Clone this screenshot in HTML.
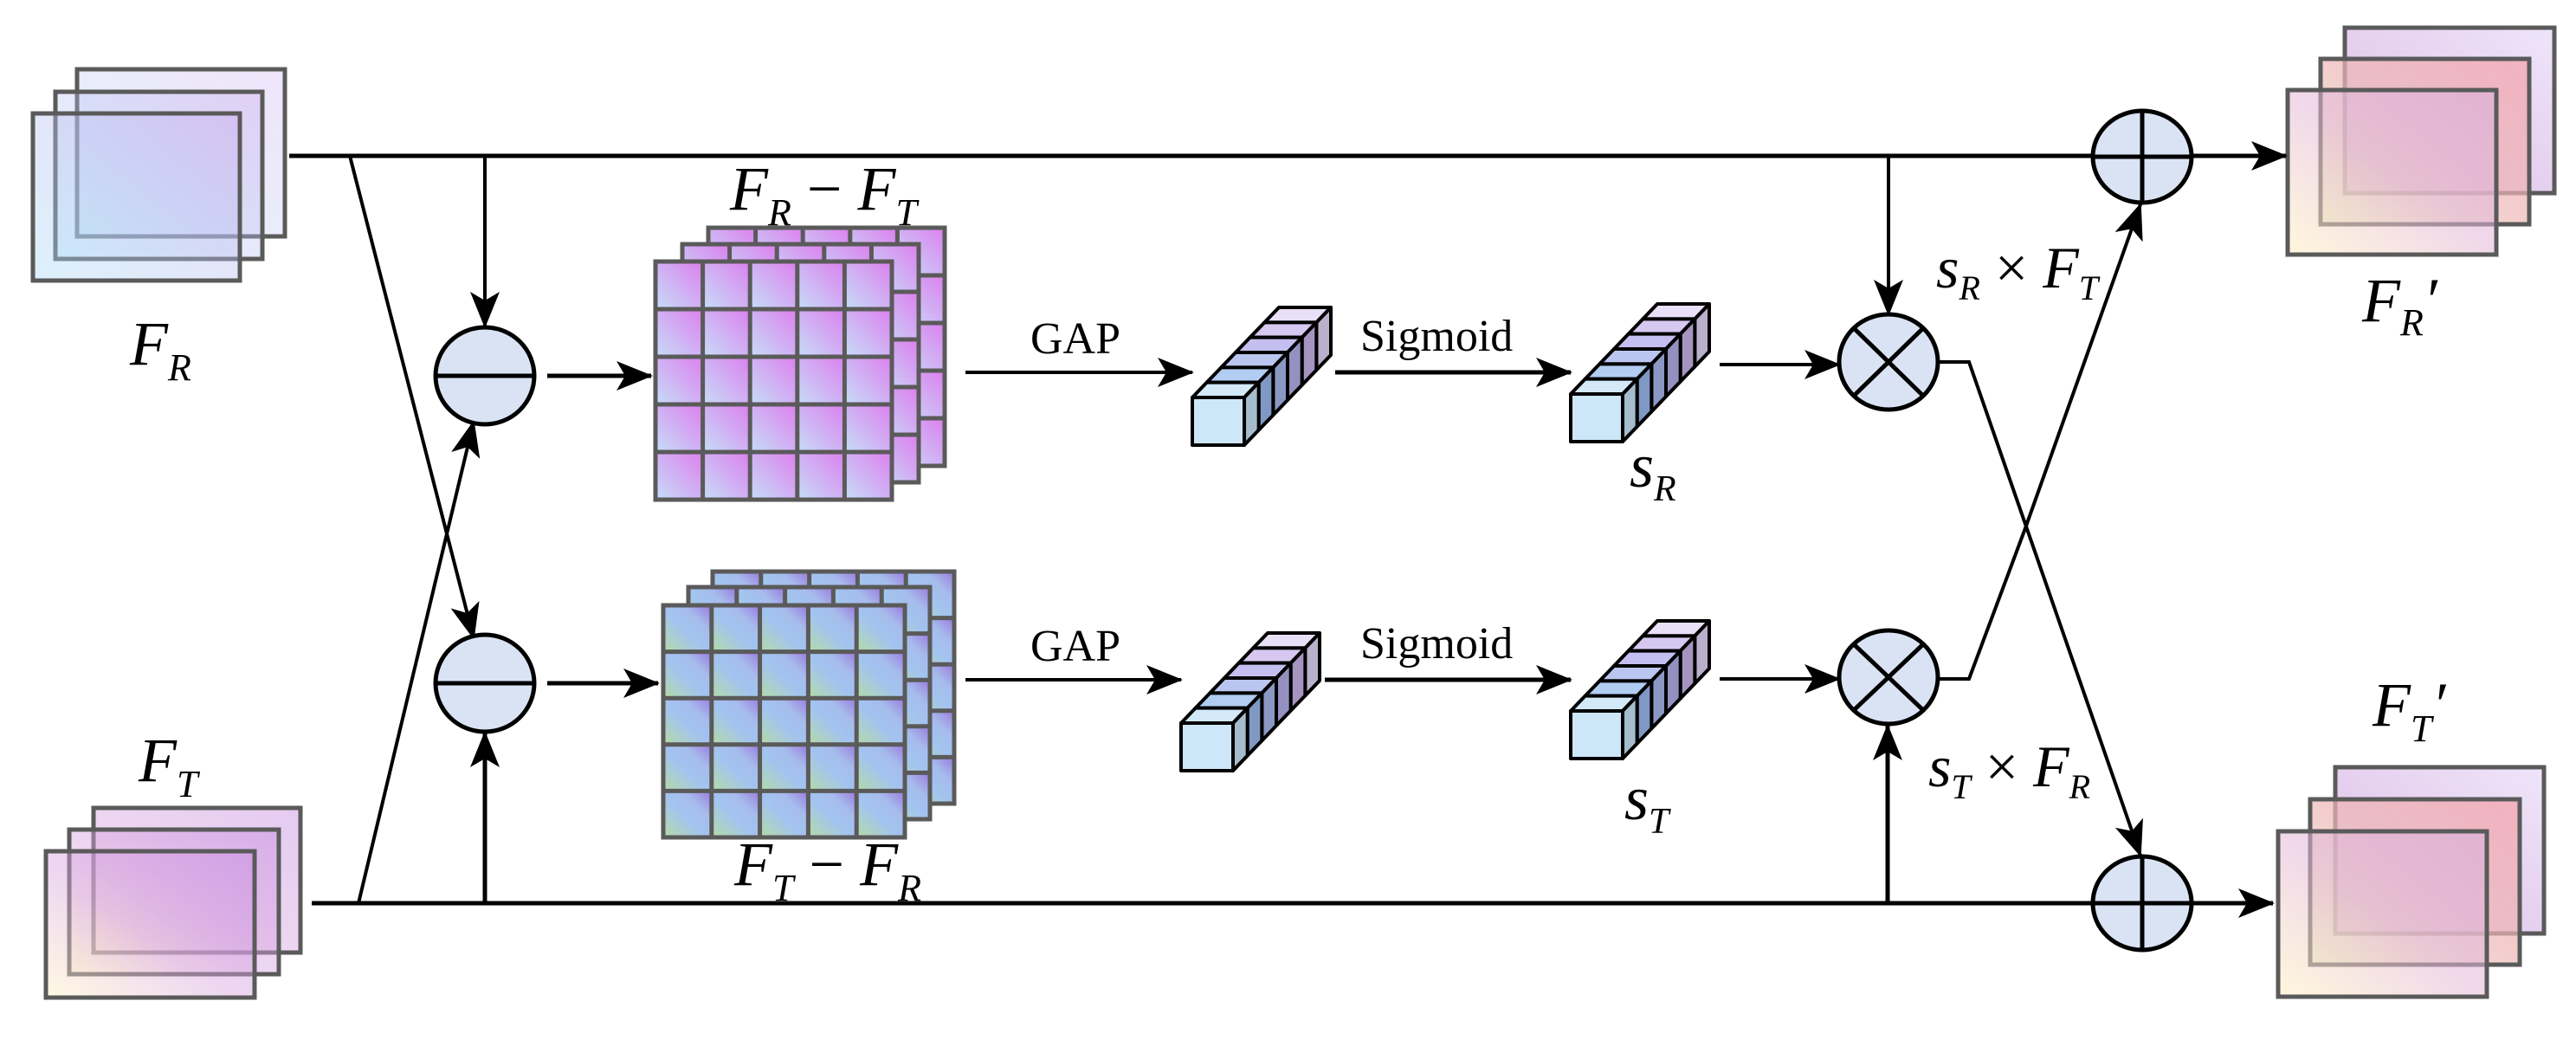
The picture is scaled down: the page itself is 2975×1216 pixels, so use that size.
<!DOCTYPE html>
<html><head><meta charset="utf-8"><style>
html,body{margin:0;padding:0;background:#fff}
svg{display:block}
</style></head><body>
<svg width="2975" height="1216" viewBox="0 0 2975 1216" xmlns="http://www.w3.org/2000/svg" font-family="'Liberation Serif', serif">
<defs>
<marker id="ah" markerUnits="userSpaceOnUse" markerWidth="44" markerHeight="34" refX="40" refY="17" orient="auto">
<path d="M0,0 L42,17 L0,34 L10,17 Z" fill="#000"/>
</marker>
<linearGradient id="gFR" x1="0" y1="1" x2="1" y2="0"><stop offset="0" stop-color="#a8dcf6"/><stop offset="1" stop-color="#c9a6ec"/></linearGradient>
<linearGradient id="gFT" x1="0" y1="1" x2="1" y2="0"><stop offset="0" stop-color="#fff2c0"/><stop offset="0.45" stop-color="#d9a6e0"/><stop offset="1" stop-color="#c58ae0"/></linearGradient>
<linearGradient id="gO1" x1="0" y1="1" x2="1" y2="0"><stop offset="0" stop-color="#d6b0e0"/><stop offset="1" stop-color="#ece0f8"/></linearGradient>
<linearGradient id="gO2" x1="0" y1="1" x2="1" y2="0"><stop offset="0" stop-color="#e4ecc0"/><stop offset="0.5" stop-color="#eeb8b8"/><stop offset="1" stop-color="#f4a0a8"/></linearGradient>
<linearGradient id="gO3" x1="0" y1="1" x2="1" y2="0"><stop offset="0" stop-color="#fff0c0"/><stop offset="0.5" stop-color="#e4b8d8"/><stop offset="1" stop-color="#d6b0e0"/></linearGradient>
<linearGradient id="cA" x1="0" y1="1" x2="1" y2="0"><stop offset="0" stop-color="#c6def8"/><stop offset="1" stop-color="#dc80ee"/></linearGradient>
<linearGradient id="cB" x1="0" y1="1" x2="1" y2="0"><stop offset="0" stop-color="#b5dba5"/><stop offset="0.45" stop-color="#a3c4ef"/><stop offset="0.7" stop-color="#a6bcec"/><stop offset="1" stop-color="#9a78de"/></linearGradient>
<g id="rowA" fill="url(#cA)">
<rect x="0" y="0" width="54.6" height="55"/><rect x="54.6" y="0" width="54.6" height="55"/><rect x="109.2" y="0" width="54.6" height="55"/><rect x="163.8" y="0" width="54.6" height="55"/><rect x="218.4" y="0" width="54.6" height="55"/>
</g>
<g id="gridA">
<use href="#rowA" y="0"/><use href="#rowA" y="55"/><use href="#rowA" y="110"/><use href="#rowA" y="165"/><use href="#rowA" y="220"/>
<rect x="0" y="0" width="273" height="275" stroke="#5a5a5a" stroke-width="5" fill="none"/>
<path d="M54.6,0V275M109.2,0V275M163.8,0V275M218.4,0V275M0,55H273M0,110H273M0,165H273M0,220H273" stroke="#5a5a5a" stroke-width="5" fill="none"/>
</g>
<g id="rowB" fill="url(#cB)">
<rect x="0" y="0" width="55.8" height="53.6"/><rect x="55.8" y="0" width="55.8" height="53.6"/><rect x="111.6" y="0" width="55.8" height="53.6"/><rect x="167.4" y="0" width="55.8" height="53.6"/><rect x="223.2" y="0" width="55.8" height="53.6"/>
</g>
<g id="gridB">
<use href="#rowB" y="0"/><use href="#rowB" y="53.6"/><use href="#rowB" y="107.2"/><use href="#rowB" y="160.8"/><use href="#rowB" y="214.4"/>
<rect x="0" y="0" width="279" height="268" stroke="#5a5a5a" stroke-width="5" fill="none"/>
<path d="M55.8,0V268M111.6,0V268M167.4,0V268M223.2,0V268M0,53.6H279M0,107.2H279M0,160.8H279M0,214.4H279" stroke="#5a5a5a" stroke-width="5" fill="none"/>
</g>
<g id="vec" stroke="#000" stroke-width="4" stroke-linejoin="round">
<polygon points="83.33,-141.67 143.33,-141.67 160,-159 100,-159" fill="#e8e0f6"/>
<polygon points="143.33,-141.67 160,-159 160,-104 143.33,-86.67" fill="#b9b0cc"/>
<polygon points="66.67,-124.33 126.67,-124.33 143.33,-141.67 83.33,-141.67" fill="#d6c8f0"/>
<polygon points="126.67,-124.33 143.33,-141.67 143.33,-86.67 126.67,-69.33" fill="#a594c0"/>
<polygon points="50,-107 110,-107 126.67,-124.33 66.67,-124.33" fill="#c4bff0"/>
<polygon points="110,-107 126.67,-124.33 126.67,-69.33 110,-52" fill="#9490c0"/>
<polygon points="33.33,-89.67 93.33,-89.67 110,-107 50,-107" fill="#bac6f0"/>
<polygon points="93.33,-89.67 110,-107 110,-52 93.33,-34.67" fill="#8b98c4"/>
<polygon points="16.67,-72.33 76.67,-72.33 93.33,-89.67 33.33,-89.67" fill="#b2cdf2"/>
<polygon points="76.67,-72.33 93.33,-89.67 93.33,-34.67 76.67,-17.33" fill="#7f98c4"/>
<polygon points="0,-55 60,-55 76.67,-72.33 16.67,-72.33" fill="#d3e9f8"/>
<polygon points="60,-55 76.67,-72.33 76.67,-17.33 60,0" fill="#a5bccc"/>
<rect x="0" y="-55" width="60" height="55" fill="#cde6f8"/>
</g>
</defs>

<g stroke="#5a5a5a" stroke-width="5">
<rect x="89" y="80" width="240" height="193" fill="url(#gFR)" fill-opacity="0.3"/>
<rect x="64" y="106" width="239" height="193" fill="url(#gFR)" fill-opacity="0.35"/>
<rect x="38" y="131" width="239" height="193" fill="url(#gFR)" fill-opacity="0.4"/>
</g>
<g stroke="#5a5a5a" stroke-width="5">
<rect x="108" y="933" width="239" height="167" fill="url(#gFT)" fill-opacity="0.45"/>
<rect x="80" y="958" width="242" height="167" fill="url(#gFT)" fill-opacity="0.45"/>
<rect x="53" y="983" width="241" height="169" fill="url(#gFT)" fill-opacity="0.45"/>
</g>
<g stroke="#5a5a5a" stroke-width="5">
<rect x="2708" y="32" width="242" height="191" fill="url(#gO1)" fill-opacity="0.85"/>
<rect x="2680" y="68" width="241" height="191" fill="url(#gO2)" fill-opacity="0.7"/>
<rect x="2642" y="104" width="241" height="190" fill="url(#gO3)" fill-opacity="0.55"/>
<rect x="2697" y="886" width="241" height="192" fill="url(#gO1)" fill-opacity="0.85"/>
<rect x="2668" y="923" width="242" height="191" fill="url(#gO2)" fill-opacity="0.7"/>
<rect x="2631" y="960" width="241" height="191" fill="url(#gO3)" fill-opacity="0.55"/>
</g>

<use href="#gridA" x="818" y="263"/>
<use href="#gridA" x="788" y="282"/>
<use href="#gridA" x="757" y="302"/>
<use href="#gridB" x="823" y="660"/>
<use href="#gridB" x="795" y="678"/>
<use href="#gridB" x="766" y="699"/>

<use href="#vec" transform="translate(1377,514)"/>
<use href="#vec" transform="translate(1814,510)"/>
<use href="#vec" transform="translate(1364,890)"/>
<use href="#vec" transform="translate(1814,876)"/>

<g stroke="#000" stroke-width="5" fill="none">
<path d="M334,180 H2640" marker-end="url(#ah)"/>
<path d="M360,1043 H2625" marker-end="url(#ah)"/>
<path d="M404,180 L547,737" stroke-width="4" marker-end="url(#ah)"/>
<path d="M414,1043 L547,487" stroke-width="4" marker-end="url(#ah)"/>
<path d="M560,180 V377" stroke-width="4" marker-end="url(#ah)"/>
<path d="M560,1043 V846" marker-end="url(#ah)"/>
<path d="M632,434 H752" marker-end="url(#ah)"/>
<path d="M632,789 H760" marker-end="url(#ah)"/>
<path d="M1115,430 H1377" stroke-width="4" marker-end="url(#ah)"/>
<path d="M1115,785 H1364" stroke-width="4" marker-end="url(#ah)"/>
<path d="M1542,430 H1814" marker-end="url(#ah)"/>
<path d="M1530,785 H1814" marker-end="url(#ah)"/>
<path d="M1986,421 H2124" stroke-width="4" marker-end="url(#ah)"/>
<path d="M1986,784 H2124" stroke-width="4" marker-end="url(#ah)"/>
<path d="M2181,180 V363" stroke-width="4" marker-end="url(#ah)"/>
<path d="M2180,1043 V838" marker-end="url(#ah)"/>
<path d="M2239,418 H2274 L2472,988" stroke-width="4" marker-end="url(#ah)"/>
<path d="M2237,784 H2274 L2339,610 L2472,236" stroke-width="4" marker-end="url(#ah)"/>
</g>

<g stroke="#000" stroke-width="5" fill="#dae3f3">
<ellipse cx="560" cy="434" rx="57" ry="56"/>
<path d="M503,434 H617" fill="none"/>
<ellipse cx="560" cy="789" rx="57" ry="56"/>
<path d="M503,789 H617" fill="none"/>
<ellipse cx="2181" cy="418" rx="57" ry="55"/>
<path d="M2141,379 L2221,457 M2221,379 L2141,457" fill="none"/>
<ellipse cx="2181" cy="782" rx="57" ry="54"/>
<path d="M2141,744 L2221,820 M2221,744 L2141,820" fill="none"/>
<ellipse cx="2474" cy="181" rx="57" ry="53"/>
<path d="M2417,181 H2531 M2474,128 V234" fill="none"/>
<ellipse cx="2474" cy="1043" rx="57" ry="54"/>
<path d="M2417,1043 H2531 M2474,989 V1097" fill="none"/>
</g>

<g fill="#000" font-family="'Liberation Serif', serif">
<text x="150" y="421" font-size="72" font-style="italic">F<tspan font-size="44" dy="18">R</tspan></text>
<text x="160" y="902" font-size="72" font-style="italic">F<tspan font-size="44" dy="18">T</tspan></text>
<text x="843" y="242" font-size="72" font-style="italic">F<tspan font-size="44" dy="18">R</tspan><tspan font-style="normal" dy="-18"> − </tspan>F<tspan font-size="44" dy="18">T</tspan></text>
<text x="848" y="1022" font-size="72" font-style="italic">F<tspan font-size="44" dy="18">T</tspan><tspan font-style="normal" dy="-18"> − </tspan>F<tspan font-size="44" dy="18">R</tspan></text>
<text x="1190" y="408" font-size="52">GAP</text>
<text x="1190" y="763" font-size="52">GAP</text>
<text x="1571" y="405" font-size="52">Sigmoid</text>
<text x="1571" y="760" font-size="52">Sigmoid</text>
<text x="1882" y="562" font-size="72" font-style="italic">s<tspan font-size="42" dy="16">R</tspan></text>
<text x="1876" y="946" font-size="72" font-style="italic">s<tspan font-size="42" dy="16">T</tspan></text>
<text x="2236" y="332" font-size="68" font-style="italic">s<tspan font-size="40" dy="14">R</tspan><tspan font-style="normal" dy="-14"> × </tspan>F<tspan font-size="40" dy="14">T</tspan></text>
<text x="2227" y="908" font-size="68" font-style="italic">s<tspan font-size="40" dy="14">T</tspan><tspan font-style="normal" dy="-14"> × </tspan>F<tspan font-size="40" dy="14">R</tspan></text>
<text x="2728" y="371" font-size="72" font-style="italic">F<tspan font-size="44" dy="16">R</tspan><tspan dy="-16">′</tspan></text>
<text x="2740" y="838" font-size="72" font-style="italic">F<tspan font-size="44" dy="18">T</tspan><tspan dy="-18">′</tspan></text>
</g>
</svg>
</body></html>
